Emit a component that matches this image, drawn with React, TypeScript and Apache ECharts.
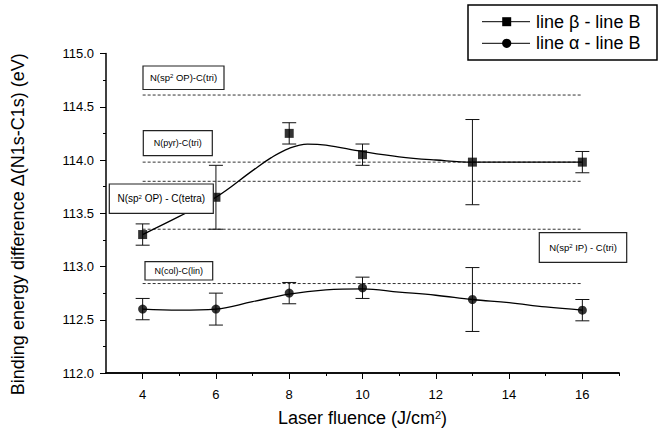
import React, { useEffect, useRef } from "react";
import * as echarts from "echarts";

// ---- data ----
const fluence = [4, 6, 8, 10, 13, 16];
const betaB = [113.3, 113.65, 114.25, 114.05, 113.98, 113.98];
const betaErr = [0.1, 0.3, 0.1, 0.1, 0.4, 0.1];
const alphaB = [112.6, 112.6, 112.75, 112.8, 112.69, 112.59];
const alphaErr = [0.1, 0.15, 0.1, 0.1, 0.3, 0.1];

// smooth fitted curves
const betaFitX = [4, 5, 6, 7, 7.5, 8, 8.5, 9, 10, 11, 12, 13, 14, 15, 16];
const betaFitY = [113.3, 113.47, 113.65, 113.9, 114.02, 114.11, 114.15, 114.14, 114.08, 114.03, 114.0, 113.98, 113.98, 113.98, 113.98];
const alphaFitX = [4, 5, 6, 7, 8, 9, 10, 11, 12, 13, 14, 15, 16];
const alphaFitY = [112.6, 112.59, 112.6, 112.67, 112.74, 112.78, 112.79, 112.76, 112.73, 112.69, 112.66, 112.62, 112.59];

// reference levels (dashed lines)
const refLevels = [114.61, 113.98, 113.8, 113.35, 112.84];
const refRange = [4, 16];

const xMajorTicks = [4, 6, 8, 10, 12, 14, 16];
const xMinorTicks = [5, 7, 9, 11, 13, 15, 17];

const legendNames = ["line \u03b2 - line B", "line \u03b1 - line B"];

const FONT = "'Liberation Sans', Arial, Helvetica, sans-serif";

export default function App() {
  const ref = useRef<HTMLDivElement>(null);
  useEffect(() => {
    document.body.style.margin = "0";
    if (!ref.current) return;
    const chart = echarts.init(ref.current, null, { renderer: "svg" });

    const errRender = (params: any, api: any) => {
      const x = api.value(0);
      const y = api.value(1);
      const e = api.value(2);
      const top = api.coord([x, y + e]);
      const bot = api.coord([x, y - e]);
      const hw = 7;
      const st = { stroke: "#111", lineWidth: 1 };
      return {
        type: "group",
        children: [
          { type: "line", shape: { x1: top[0], y1: top[1], x2: bot[0], y2: bot[1] }, style: st },
          { type: "line", shape: { x1: top[0] - hw, y1: top[1], x2: top[0] + hw, y2: top[1] }, style: st },
          { type: "line", shape: { x1: bot[0] - hw, y1: bot[1], x2: bot[0] + hw, y2: bot[1] }, style: st },
        ],
      };
    };

    const refSeries = refLevels.map((v) => ({
      type: "line",
      data: refRange.map((x) => [x, v]),
      symbol: "none",
      lineStyle: { color: "#333", width: 1, type: [3, 2] },
      z: 1,
      silent: true,
    }));

    const boxRich = { s: { fontSize: 6, fontFamily: FONT, color: "#000", verticalAlign: "top", lineHeight: 10 } };
    const boxes = [
      { x: 143, y: 66, w: 81, h: 23.5, text: "N(sp{s|2} OP)-C(tri)", fs: 9.5 },
      { x: 143.3, y: 130.7, w: 69, h: 25, text: "N(pyr)-C(tri)", fs: 9 },
      { x: 109.3, y: 184, w: 104, h: 29.3, text: "N(sp{s|2} OP) - C(tetra)", fs: 10 },
      { x: 145, y: 261.7, w: 67.7, h: 18.3, text: "N(col)-C(lin)", fs: 9 },
      { x: 539.3, y: 232.7, w: 87.4, h: 29.6, text: "N(sp{s|2} IP) - C(tri)", fs: 9.5 },
    ];
    const boxGraphics: any[] = [];
    boxes.forEach((b) => {
      boxGraphics.push({
        type: "rect",
        shape: { x: b.x, y: b.y, width: b.w, height: b.h },
        style: { fill: "#fff", stroke: "#222", lineWidth: 1.2 },
        z: 100,
      });
      boxGraphics.push({
        type: "text",
        x: b.x + b.w / 2,
        y: b.y + b.h / 2,
        style: {
          text: b.text,
          fontSize: b.fs,
          fontFamily: FONT,
          fill: "#000",
          align: "center",
          verticalAlign: "middle",
          rich: boxRich,
        },
        z: 101,
      });
    });

    const legendGraphics: any[] = [
      {
        type: "rect",
        shape: { x: 468, y: 5, width: 189, height: 55 },
        style: { fill: "#fff", stroke: "#000", lineWidth: 1.5 },
        z: 100,
      },
      { type: "line", shape: { x1: 482, y1: 21.7, x2: 530, y2: 21.7 }, style: { stroke: "#000", lineWidth: 1 }, z: 101 },
      { type: "rect", shape: { x: 502.2, y: 17.2, width: 9, height: 9 }, style: { fill: "#000" }, z: 102 },
      {
        type: "text",
        x: 536,
        y: 21.7,
        style: { text: legendNames[0], fontSize: 18, fontFamily: FONT, fill: "#000", align: "left", verticalAlign: "middle" },
        z: 102,
      },
      { type: "line", shape: { x1: 482, y1: 43.3, x2: 530, y2: 43.3 }, style: { stroke: "#000", lineWidth: 1 }, z: 101 },
      { type: "circle", shape: { cx: 506.7, cy: 43.3, r: 4.6 }, style: { fill: "#000" }, z: 102 },
      {
        type: "text",
        x: 536,
        y: 43.3,
        style: { text: legendNames[1], fontSize: 18, fontFamily: FONT, fill: "#000", align: "left", verticalAlign: "middle" },
        z: 102,
      },
    ];

    const option: any = {
      animation: false,
      backgroundColor: "#fff",
      grid: { left: 106, right: 46, top: 53.5, bottom: 65, containLabel: false },
      xAxis: [
        {
          type: "value",
          min: 3,
          max: 17,
          name: "Laser fluence (J/cm{sup|2})",
          nameLocation: "middle",
          nameGap: 36,
          nameTextStyle: {
            fontSize: 18,
            fontFamily: FONT,
            color: "#000",
            rich: { sup: { fontSize: 11, fontFamily: FONT, color: "#000", verticalAlign: "top", lineHeight: 18 } },
          },
          axisLine: { show: true, lineStyle: { color: "#000", width: 1.5 } },
          axisTick: { show: true, customValues: xMajorTicks, length: 6, lineStyle: { color: "#000", width: 1 } },
          axisLabel: { customValues: xMajorTicks, fontSize: 13, fontFamily: FONT, color: "#000", margin: 15 },
          splitLine: { show: false },
        },
        {
          type: "value",
          min: 3,
          max: 17,
          position: "bottom",
          axisLine: { show: true, onZero: false, lineStyle: { color: "#000", width: 1.5 } },
          axisTick: { show: true, customValues: xMinorTicks, length: 3, lineStyle: { color: "#000", width: 1 } },
          axisLabel: { show: false },
          splitLine: { show: false },
        },
      ],
      yAxis: {
        type: "value",
        min: 112,
        max: 115,
        interval: 0.5,
        name: "Binding energy difference \u0394(N1s-C1s) (eV)",
        nameLocation: "middle",
        nameGap: 79,
        nameTextStyle: { fontSize: 18, fontFamily: FONT, color: "#000", padding: [0, 22, 0, 0] },
        axisLine: { show: true, lineStyle: { color: "#000", width: 1.5 } },
        axisTick: { show: true, length: 6, lineStyle: { color: "#000", width: 1 } },
        minorTick: { show: true, splitNumber: 2, length: 3, lineStyle: { color: "#000", width: 1 } },
        axisLabel: {
          fontSize: 13,
          fontFamily: FONT,
          color: "#000",
          margin: 12,
          formatter: (v: number) => v.toFixed(1),
        },
        splitLine: { show: false },
      },
      series: [
        ...refSeries,
        {
          type: "line",
          name: "beta fit",
          data: betaFitX.map((x, i) => [x, betaFitY[i]]),
          smooth: 0.4,
          symbol: "none",
          lineStyle: { color: "#000", width: 1.3 },
          z: 3,
        },
        {
          type: "line",
          name: "alpha fit",
          data: alphaFitX.map((x, i) => [x, alphaFitY[i]]),
          smooth: 0.4,
          symbol: "none",
          lineStyle: { color: "#000", width: 1.3 },
          z: 3,
        },
        {
          type: "custom",
          name: "beta err",
          renderItem: errRender,
          data: fluence.map((x, i) => [x, betaB[i], betaErr[i]]),
          encode: { x: 0, y: 1 },
          z: 4,
        },
        {
          type: "custom",
          name: "alpha err",
          renderItem: errRender,
          data: fluence.map((x, i) => [x, alphaB[i], alphaErr[i]]),
          encode: { x: 0, y: 1 },
          z: 4,
        },
        {
          type: "scatter",
          name: legendNames[0],
          data: fluence.map((x, i) => [x, betaB[i]]),
          symbol: "rect",
          symbolSize: 9,
          itemStyle: { color: "#000" },
          z: 5,
        },
        {
          type: "scatter",
          name: legendNames[1],
          data: fluence.map((x, i) => [x, alphaB[i]]),
          symbol: "circle",
          symbolSize: 9,
          itemStyle: { color: "#000" },
          z: 5,
        },
      ],
      graphic: [...boxGraphics, ...legendGraphics],
    };

    chart.setOption(option);
    return () => chart.dispose();
  }, []);

  return <div ref={ref} style={{ width: 665, height: 438 }} />;
}
